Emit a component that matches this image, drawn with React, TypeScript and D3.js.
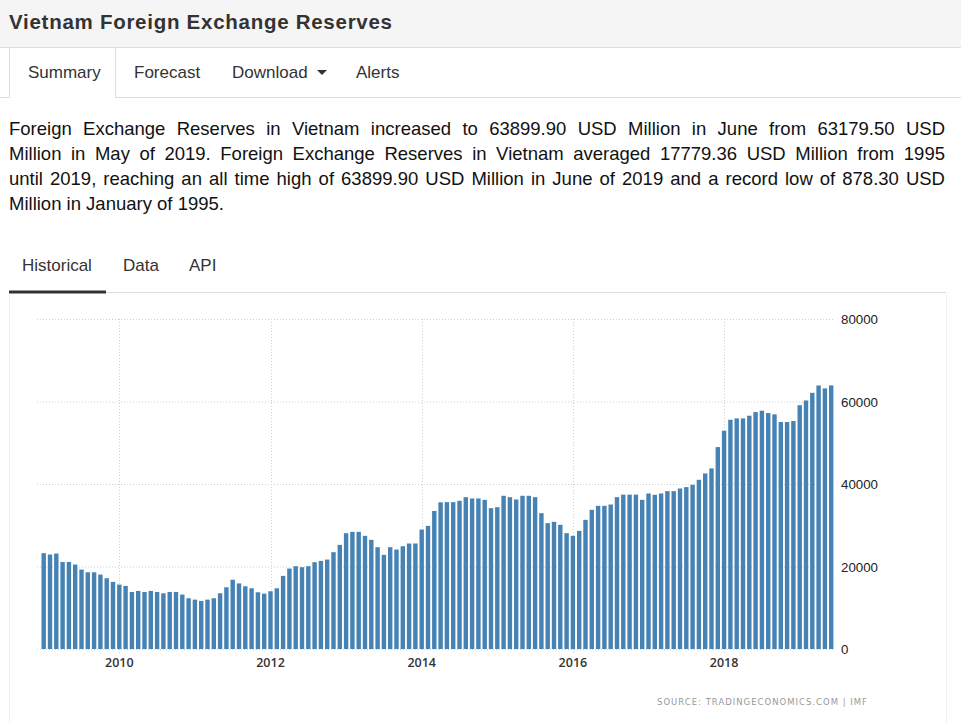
import React from "react";
import * as d3 from "d3";

const startYear = 2009;
const values: number[] = [
  // 2009
  23230, 22900, 23140, 21100, 21100, 20470, 19250, 18600, 18600, 18040, 17150, 16260,
  // 2010
  15610, 15290, 13830, 14080, 13830, 14080, 13830, 13510, 13830, 13830, 13190, 12300,
  // 2011
  11970, 11650, 11970, 12300, 13510, 14970, 16790, 15900, 15210, 14720, 13750, 13430,
  // 2012
  14000, 14720, 17720, 19500, 20070, 19830, 20070, 21040, 21360, 21680, 23470, 25240,
  // 2013
  28080, 28400, 28400, 27430, 26460, 24680, 22820, 24680, 24110, 24920, 25570, 25570,
  // 2014
  28960, 29850, 33450, 35560, 35600, 35600, 35920, 36810, 36490, 36490, 36160, 34140,
  // 2015
  34380, 37140, 36810, 36250, 37140, 37140, 36810, 32930, 30500, 30830, 30100, 28080,
  // 2016
  27430, 28640, 31310, 33740, 34710, 34710, 35030, 36810, 37420, 37420, 37420, 36160,
  // 2017
  37700, 37380, 37700, 38270, 38270, 38910, 39240, 39810, 41020, 42560, 43770, 48950,
  // 2018
  52910, 55580, 55900, 55900, 56550, 57440, 57770, 57200, 56880, 55020, 55020, 55260,
  // 2019
  59100, 60250, 62100, 63880, 63179.5, 63899.9,
];
const yTicks: number[] = [0, 20000, 40000, 60000, 80000];
const xTickYears: number[] = [2010, 2012, 2014, 2016, 2018];
const navTabs: string[] = ["Summary", "Forecast", "Download", "Alerts"];
const subTabs: string[] = ["Historical", "Data", "API"];
const title = "Vietnam Foreign Exchange Reserves";
const paragraphLines: string[] = [
  "Foreign Exchange Reserves in Vietnam increased to 63899.90 USD Million in June from 63179.50 USD",
  "Million in May of 2019. Foreign Exchange Reserves in Vietnam averaged 17779.36 USD Million from 1995",
  "until 2019, reaching an all time high of 63899.90 USD Million in June of 2019 and a record low of 878.30 USD",
  "Million in January of 1995.",
];
const sourceText = "SOURCE: TRADINGECONOMICS.COM | IMF";

export default function App() {
  const W = 961;
  const H = 723;
  const idx = values.map((_, i) => i);
  const x = d3.scaleBand<number>().domain(idx).range([40.55, 834.35]).paddingInner(0.3).paddingOuter(0.15);
  const y = d3.scaleLinear().domain([0, 80000]).range([649, 319]);
  const center = (i: number) => (x(i) as number) + x.bandwidth() / 2;
  const tickIndex = (yr: number) => (yr - startYear) * 12;
  const font = "'Liberation Sans', Arial, sans-serif";
  const navX = [28, 134, 232, 356];
  const subX = [22, 123, 189];

  return (
    <div style={{ position: "absolute", left: 0, top: 0, width: W, height: H, overflow: "hidden", background: "#fff" }}>
      <svg width={W} height={H} style={{ position: "absolute", left: 0, top: 0 }}>
        {/* header */}
        <rect x={0} y={0} width={W} height={47} fill="#f5f5f5" />
        <line x1={0} x2={W} y1={47.5} y2={47.5} stroke="#dcdcdc" />
        <text x={9} y={28.5} fontFamily={font} fontWeight="bold" fontSize={20.5} fill="#333" textLength={383} lengthAdjust="spacing">{title}</text>
        {/* nav tabs */}
        <line x1={0} x2={W} y1={97.5} y2={97.5} stroke="#ddd" />
        <rect x={9.5} y={48} width={106} height={50} fill="#fff" stroke="none" />
        <line x1={9.5} x2={9.5} y1={48} y2={98} stroke="#ddd" />
        <line x1={115.5} x2={115.5} y1={48} y2={98} stroke="#ddd" />
        {navTabs.map((t, i) => (
          <text key={t} x={navX[i]} y={78} fontFamily={font} fontSize={17} fill="#333">{t}</text>
        ))}
        <path d="M317,70 L327,70 L322,75 Z" fill="#333" />
        {/* sub tabs */}
        {subTabs.map((t, i) => (
          <text key={t} x={subX[i]} y={271} fontFamily={font} fontSize={17} fill="#333">{t}</text>
        ))}
        <line x1={106} x2={946} y1={292.5} y2={292.5} stroke="#ddd" />
        <rect x={9} y={290.5} width={97} height={3} fill="#333" />
        {/* chart box */}
        <line x1={9.5} x2={9.5} y1={294} y2={H} stroke="#f0f0f0" />
        <line x1={946.5} x2={946.5} y1={294} y2={H} stroke="#f0f0f0" />
        {/* grid */}
        {yTicks.map((t) => (
          <line key={"g" + t} x1={37} x2={833} y1={y(t) + 0.5} y2={y(t) + 0.5} stroke="#cfcfcf" strokeDasharray="1,2" />
        ))}
        {xTickYears.map((yr) => (
          <line key={"v" + yr} x1={Math.round(center(tickIndex(yr))) + 0.5} x2={Math.round(center(tickIndex(yr))) + 0.5} y1={319} y2={653} stroke="#cfcfcf" strokeDasharray="1,2" />
        ))}
        {/* bars */}
        {values.map((v, i) => (
          <rect key={i} x={x(i)} y={y(v)} width={x.bandwidth()} height={y(0) - y(v)} fill="#4682b4" />
        ))}
        {/* axes labels */}
        {yTicks.map((t) => (
          <text key={"yl" + t} x={841} y={y(t) + 5} fontFamily={font} fontSize={13.3} fill="#222">{t}</text>
        ))}
        {xTickYears.map((yr) => (
          <text key={"xl" + yr} x={center(tickIndex(yr))} y={667} textAnchor="middle" fontFamily="'Open Sans', sans-serif" fontWeight={600} fontSize={12.5} fill="#333">{yr}</text>
        ))}
        <text x={657} y={705} fontFamily="'DejaVu Sans', sans-serif" fontSize={8.5} fill="#999" textLength={210} lengthAdjust="spacing">{sourceText}</text>
      </svg>
      <div
        style={{
          position: "absolute",
          left: 9,
          top: 116,
          width: 936,
          fontFamily: font,
          fontSize: 18.5,
          lineHeight: "25px",
          color: "#111",
        }}
      >
        {paragraphLines.map((ln, i) => (
          <div
            key={i}
            style={{
              textAlign: i < paragraphLines.length - 1 ? "justify" : "left",
              textAlignLast: i < paragraphLines.length - 1 ? "justify" : "left",
              whiteSpace: "nowrap",
            }}
          >
            {ln}
          </div>
        ))}
      </div>
    </div>
  );
}
